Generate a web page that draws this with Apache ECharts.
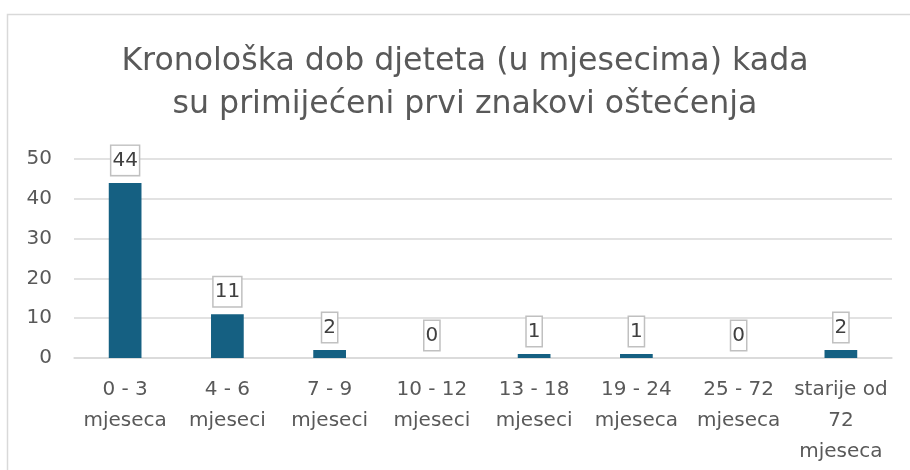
<!DOCTYPE html>
<html lang="hr">
<head>
  <meta charset="UTF-8">
  <title>Kronološka dob djeteta</title>
  <script src="https://cdn.jsdelivr.net/npm/echarts@6/dist/echarts.min.js"></script>
  <style>
    html, body { margin: 0; padding: 0; background: #fff; }
  </style>
</head>
<body>
  <div id="main" style="width:910px; height:470px;"></div>
  <script>
    // podaci
    var kategorije = [
      '0 - 3\nmjeseca', '4 - 6\nmjeseci', '7 - 9\nmjeseci', '10 - 12\nmjeseci',
      '13 - 18\nmjeseci', '19 - 24\nmjeseca', '25 - 72\nmjeseca', 'starije od\n72\nmjeseca'
    ];
    var vrijednosti = [44, 11, 2, 0, 1, 1, 0, 2];
    var naslov = 'Kronološka dob djeteta (u mjesecima) kada\nsu primijećeni prvi znakovi oštećenja';

    var font = '"DejaVu Sans", sans-serif';
    var sivo = '#595959';

    var chart = echarts.init(document.getElementById('main'));
    var option = {
      animation: false,
      textStyle: { fontFamily: font },
      graphic: [{
        type: 'rect',
        z: -1,
        shape: { x: 7.5, y: 14.5, width: 1000, height: 1000 },
        style: { fill: 'none', stroke: '#d9d9d9', lineWidth: 1.5 }
      }],
      title: {
        text: naslov,
        left: 460,
        textAlign: 'center',
        top: 35,
        textStyle: {
          fontFamily: font,
          fontSize: 31.6,
          fontWeight: 'normal',
          color: sivo,
          lineHeight: 43
        }
      },
      grid: { left: 74, right: 18, top: 159, bottom: 112 },
      xAxis: {
        type: 'category',
        data: kategorije,
        axisLine: { lineStyle: { color: '#d9d9d9', width: 1.5 } },
        axisTick: { show: false },
        axisLabel: {
          interval: 0,
          margin: 16,
          fontSize: 20,
          lineHeight: 31,
          color: sivo,
          fontFamily: font
        }
      },
      yAxis: {
        type: 'value',
        min: 0,
        max: 50,
        interval: 10,
        axisLine: { show: false },
        axisTick: { show: false },
        axisLabel: { margin: 22, fontSize: 20, color: sivo, fontFamily: font },
        splitLine: { lineStyle: { color: '#d9d9d9', width: 1.5 } }
      },
      series: [{
        type: 'bar',
        data: vrijednosti,
        barWidth: '32%',
        itemStyle: { color: '#156082' },
        label: {
          show: true,
          position: 'top',
          distance: 8,
          fontSize: 20,
          lineHeight: 24,
          color: '#404040',
          fontFamily: font,
          backgroundColor: '#fff',
          borderColor: '#c0c0c0',
          borderWidth: 1.5,
          padding: [3, 1, 2, 1]
        }
      }]
    };
    chart.setOption(option);
  </script>
</body>
</html>
